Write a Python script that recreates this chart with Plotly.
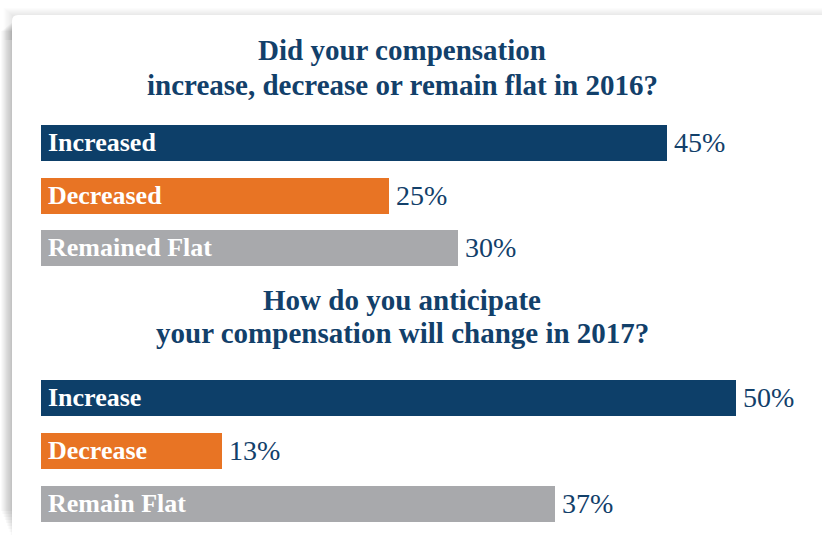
import plotly.graph_objects as go

# Survey results: compensation change
q1_title = ["Did your compensation", "increase, decrease or remain flat in 2016?"]
q1_labels = ["Increased", "Decreased", "Remained Flat"]
q1_values = [45, 25, 30]

q2_title = ["How do you anticipate", "your compensation will change in 2017?"]
q2_labels = ["Increase", "Decrease", "Remain Flat"]
q2_values = [50, 13, 37]

bar_colors = ["#0D3F69", "#E87424", "#A8A9AC"]
NAVY = "#12406A"
FONT = "Liberation Serif"

W, H = 822, 540
PX_PER_PCT = 13.9      # horizontal scale
X0_PX = 41             # pixel where bars start


def py(p):
    """pixel row -> paper y"""
    return 1 - p / H


fig = go.Figure()

groups = [
    (q1_labels, q1_values, "y", (116.5, 274.0)),
    (q2_labels, q2_values, "y2", (371.5, 529.5)),
]

annotations = []
for labels, values, yref, (top, bot) in groups:
    fig.add_trace(go.Bar(
        x=values, y=labels, orientation="h",
        marker=dict(color=bar_colors, line=dict(width=0)),
        width=0.68, yaxis=yref, xaxis="x",
        hoverinfo="skip", showlegend=False,
    ))
    for lab, val in zip(labels, values):
        annotations.append(dict(
            x=0, y=lab, xref="x", yref=yref, text=lab, showarrow=False,
            xanchor="left", yanchor="middle", xshift=5, yshift=0,
            font=dict(family=FONT, size=26, color="white", weight="bold"),
        ))
        annotations.append(dict(
            x=val, y=lab, xref="x", yref=yref, text=f"{val}%", showarrow=False,
            xanchor="left", yanchor="middle", xshift=5, yshift=0,
            font=dict(family=FONT, size=28, color=NAVY),
        ))

# question titles
for lines, rows in ((q1_title, (50, 85)), (q2_title, (300, 333))):
    for line, row in zip(lines, rows):
        annotations.append(dict(
            x=402 / W, y=py(row), xref="paper", yref="paper", text=line,
            showarrow=False, xanchor="center", yanchor="middle",
            font=dict(family=FONT, size=29, color=NAVY, weight="bold"),
        ))

# card with soft shadow on its left and top edges
shapes = []
for i in range(8):
    # top edge
    shapes.append(dict(
        type="rect", xref="paper", yref="paper", layer="below",
        x0=(12 - 1.2 * i) / W, x1=1.05, y0=py(40), y1=py(15 - 1.0 * i),
        fillcolor="rgba(0,0,0,0.012)", line=dict(width=0),
    ))
for i in range(10):
    # left edge, fading out toward the bottom
    shapes.append(dict(
        type="rect", xref="paper", yref="paper", layer="below",
        x0=(12 - 1.2 * i) / W, x1=60 / W, y0=py(538 - 3 * i), y1=py(22 + i),
        fillcolor="rgba(0,0,0,0.028)", line=dict(width=0),
    ))
shapes.append(dict(
    type="path", xref="paper", yref="paper", layer="below",
    path=(f"M {12 / W},{py(560)} L {12 / W},{py(21)} "
          f"Q {12 / W},{py(15)} {18 / W},{py(15)} "
          f"L 1.05,{py(15)} L 1.05,{py(560)} Z"),
    fillcolor="white", line=dict(width=0),
))

fig.update_layout(
    width=W, height=H,
    margin=dict(l=0, r=0, t=0, b=0),
    paper_bgcolor="white", plot_bgcolor="rgba(0,0,0,0)",
    bargap=0,
    xaxis=dict(range=[-X0_PX / PX_PER_PCT, (W - X0_PX) / PX_PER_PCT],
               visible=False, fixedrange=True),
    yaxis=dict(domain=[py(274.0), py(116.5)], range=[2.5, -0.5],
               visible=False, type="category", fixedrange=True),
    yaxis2=dict(domain=[py(529.5), py(371.5)], range=[2.5, -0.5],
                visible=False, type="category", fixedrange=True),
    annotations=annotations,
    shapes=shapes,
)

fig.write_html("out.html")
